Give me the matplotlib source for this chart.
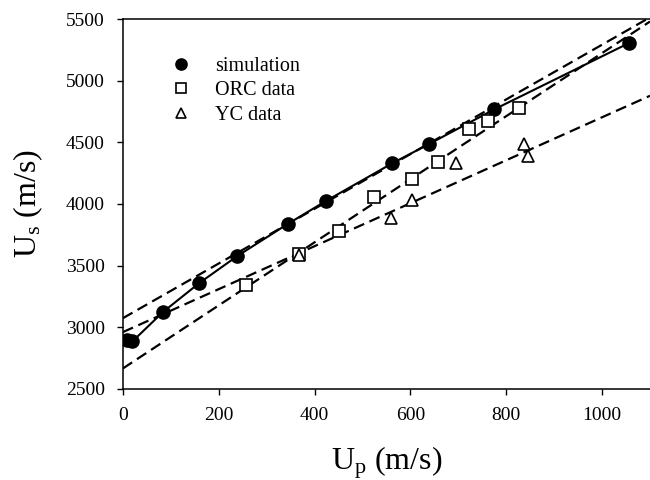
import matplotlib
matplotlib.use("Agg")
import matplotlib.pyplot as plt
import numpy as np

plt.rcParams["font.family"] = ["Liberation Serif", "DejaVu Serif"]
plt.rcParams["mathtext.fontset"] = "custom"
plt.rcParams["mathtext.rm"] = "Liberation Serif"

# simulation results
sim_up = [8, 20, 84, 159, 239, 344, 424, 562, 639, 775, 1057]
sim_us = [2897, 2885, 3124, 3357, 3578, 3838, 4025, 4330, 4487, 4768, 5308]

# ORC experimental data
orc_up = [256, 367, 452, 524, 604, 658, 723, 762, 826]
orc_us = [3343, 3592, 3784, 4060, 4203, 4338, 4606, 4673, 4776]

# YC experimental data
yc_up = [367, 559, 604, 696, 837, 845]
yc_us = [3590, 3884, 4033, 4330, 4487, 4392]

# linear fits (intercept, slope)
sim_fit = (3073, 2.22)
orc_fit = (2665, 2.56)
yc_fit = (2960, 1.744)

fig = plt.figure(figsize=(6.5, 4.8), dpi=100)
ax = fig.add_axes([0.189, 0.19, 0.811, 0.77])

xfit = np.array([0, 1100])
dash = dict(color="black", lw=1.6, linestyle=(0, (5, 2.6)), zorder=2)
for a, b in (sim_fit, orc_fit, yc_fit):
    ax.plot(xfit, a + b * xfit, **dash)

ax.plot(sim_up, sim_us, color="black", lw=1.5, zorder=3)
ax.plot(sim_up, sim_us, "o", color="black", ms=9.5, ls="none",
        label="simulation", zorder=4)
ax.plot(orc_up, orc_us, "s", mfc="white", mec="black", mew=1.2, ms=8,
        ls="none", label="ORC data", zorder=4)
ax.plot(yc_up, yc_us, "^", mfc="white", mec="black", mew=1.2, ms=9,
        ls="none", label="YC data", zorder=4)

ax.set_xlim(0, 1100)
ax.set_ylim(2500, 5500)
ax.set_xticks([0, 200, 400, 600, 800, 1000])
ax.set_yticks(np.arange(2500, 5501, 500))
ax.spines["right"].set_visible(False)
for s in ("left", "bottom", "top"):
    ax.spines[s].set_linewidth(1.1)
ax.tick_params(direction="out", length=4, width=1, labelsize=14, pad=9)

ax.set_xlabel(r"U$\mathregular{_p}$ (m/s)", fontsize=23, labelpad=15)
ax.set_ylabel(r"U$\mathregular{_s}$ (m/s)", fontsize=23, labelpad=15)

ax.legend(loc="upper left", bbox_to_anchor=(0.057, 0.948), frameon=False,
          fontsize=14.5, handlelength=1.0, handletextpad=1.2,
          labelspacing=0.28, markerscale=0.85)

fig.savefig("out.png", dpi=100)
